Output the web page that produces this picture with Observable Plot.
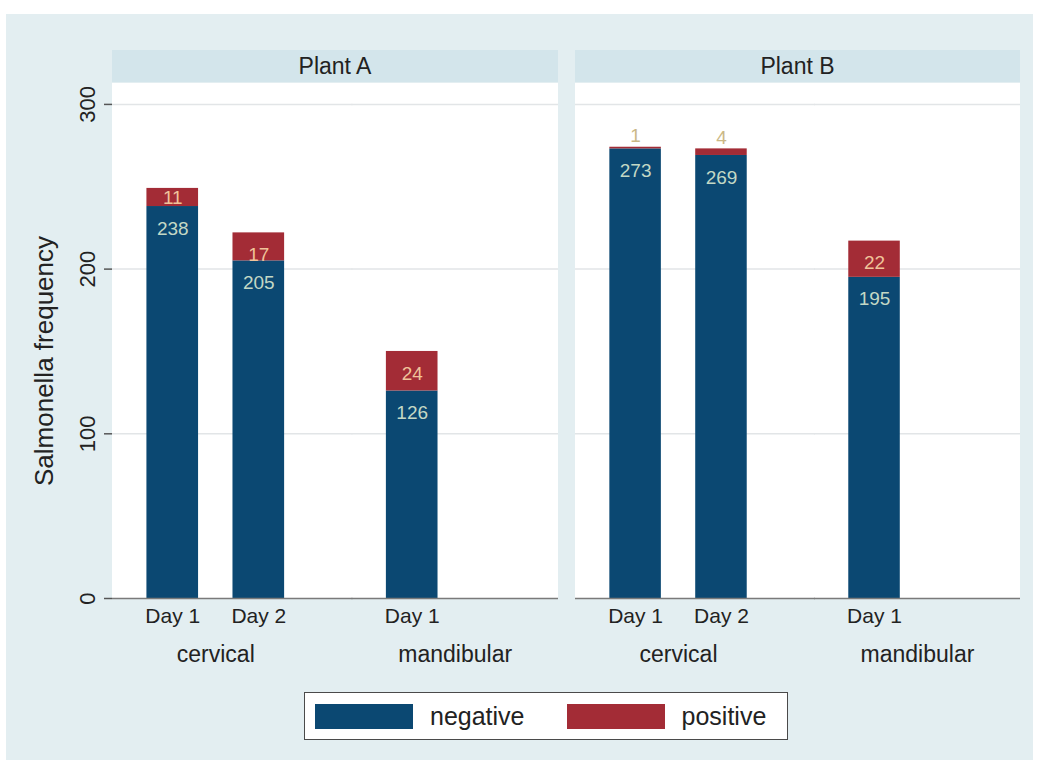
<!DOCTYPE html>
<html>
<head>
<meta charset="utf-8">
<script src="https://cdn.jsdelivr.net/npm/d3@7"></script>
<script src="https://cdn.jsdelivr.net/npm/@observablehq/plot@0.6"></script>
<style>
  html, body { margin: 0; padding: 0; background: #ffffff; }
  #page { position: relative; width: 1040px; height: 767px; overflow: hidden;
          font-family: "Liberation Sans", Arial, sans-serif; color: #222; }
  .abs { position: absolute; }
  .strip { background: #d3e5eb; font-size: 23px; display: flex; align-items: center; justify-content: center; }
  .panelbg { background: #ffffff; }
  #legend { display: flex; align-items: center; box-sizing: border-box; background: #fff;
            border: 1.5px solid #4a4a4a; font-size: 25px; }
  #legend .sw { width: 98px; height: 25px; }
</style>
</head>
<body>
<div id="page">
  <div class="abs" style="left:6px;top:14px;width:1027px;height:746px;background:#e3eef1"></div>
  <div id="panels"></div>
  <div id="plots"></div>
  <div id="ytitle" class="abs" style="left:44px;top:361px;transform:translate(-50%,-50%) rotate(-90deg);font-size:26px;line-height:1;white-space:nowrap"></div>
  <div id="legend" class="abs" style="left:304px;top:692px;width:484px;height:48px"></div>
</div>
<script>
// ---- data ----
const plants = ["Plant A", "Plant B"];
const sites = ["cervical", "mandibular"];
const days = ["Day 1", "Day 2"];
const statuses = ["negative", "positive"];
const statusColors = ["#0b4872", "#a32c36"];
const barPlant = ["Plant A", "Plant A", "Plant A", "Plant B", "Plant B", "Plant B"];
const barSite = ["cervical", "cervical", "mandibular", "cervical", "cervical", "mandibular"];
const barDay = ["Day 1", "Day 2", "Day 1", "Day 1", "Day 2", "Day 1"];
const negativeCounts = [238, 205, 126, 273, 269, 195];
const positiveCounts = [11, 17, 24, 1, 4, 22];
const yTicks = [0, 100, 200, 300];
const yTitle = "Salmonella frequency";

// ---- tables built from the arrays ----
const bars = barPlant.map((p, i) => ({plant: p, site: barSite[i], day: barDay[i]}));
const rows = [];
bars.forEach((b, i) => {
  rows.push({...b, status: statuses[0], count: negativeCounts[i]});
  rows.push({...b, status: statuses[1], count: positiveCounts[i]});
});
// one reference line per tick and facet
const gridRows = [];
sites.forEach(s => yTicks.forEach(t => gridRows.push({site: s, value: t})));

const FONT = '"Liberation Sans", Arial, sans-serif';

// panel geometry (page pixels)
const layout = {
  "Plant A": {left: 0, width: 560, ml: 112, mr: 2, axis: true},
  "Plant B": {left: 560, width: 470, ml: 15, mr: 10, axis: false}
};
const H = 680, MT = 83, MB = 82;
const FX_PAD = 0.1375;

function makePanel(plant) {
  const L = layout[plant];
  const data = rows.filter(d => d.plant === plant);
  const barData = bars.filter(d => d.plant === plant);
  const innerW = L.width - L.ml - L.mr;
  const gap = innerW / (sites.length - FX_PAD) * FX_PAD + 1; // space between the two facets
  const lab = {fx: "site", x: "day", y: "count", fontSize: 19, fontFamily: FONT};
  const first = d => d.site === sites[0];
  const marks = [
    Plot.ruleY(gridRows.filter(d => d.value > 0 && first(d)), {fx: "site", y: "value", stroke: "#e2e5e7", strokeWidth: 1.5, insetRight: -gap}),
    Plot.ruleY(gridRows.filter(d => d.value > 0 && !first(d)), {fx: "site", y: "value", stroke: "#e2e5e7", strokeWidth: 1.5}),
    Plot.barY(data, {fx: "site", x: "day", y: "count", fill: "status"}),
    Plot.ruleY(gridRows.filter(d => d.value === 0 && first(d)), {fx: "site", y: "value", stroke: "#7a7a7a", strokeWidth: 1.5, insetRight: -gap}),
    Plot.ruleY(gridRows.filter(d => d.value === 0 && !first(d)), {fx: "site", y: "value", stroke: "#7a7a7a", strokeWidth: 1.5}),
    Plot.text(data, Plot.stackY2({...lab, text: d => d.status === "negative" ? String(d.count) : "", dy: 22, fill: "#c3d8c5"})),
    Plot.text(data, Plot.stackY2({...lab, text: d => d.status === "positive" && d.count >= 15 ? String(d.count) : "", dy: 22, fill: "#f0c39a"})),
    Plot.text(data, Plot.stackY({...lab, text: d => d.status === "positive" && d.count >= 8 && d.count < 15 ? String(d.count) : "", fill: "#f0c39a"})),
    Plot.text(data, Plot.stackY2({...lab, text: d => d.status === "positive" && d.count < 8 ? String(d.count) : "", dy: -11, fill: "#cbb886"})),
    Plot.text(barData, {fx: "site", x: "day", text: "day", frameAnchor: "bottom", lineAnchor: "top", dy: 10, fontSize: 21, fontFamily: FONT, fill: "#222"}),
    Plot.axisFx({anchor: "bottom", tickSize: 0, tickPadding: 47, fontSize: 23, fontFamily: FONT, fill: "#222", label: null})
  ];
  if (L.axis) {
    marks.push(Plot.axisY({ticks: yTicks, tickSize: 8, tickPadding: 10, tickRotate: -90, fontSize: 22,
      fontFamily: FONT, stroke: "#555", fill: "#222", label: null, line: true, strokeWidth: 1.5}));
  }
  const svg = Plot.plot({
    width: L.width, height: H,
    marginLeft: L.ml, marginRight: L.mr, marginTop: MT, marginBottom: MB,
    style: {background: "transparent", overflow: "visible", fontFamily: FONT},
    fx: {domain: sites, paddingInner: FX_PAD, paddingOuter: 0, round: false, label: null},
    x: {domain: days, padding: 0.4, round: false, label: null, axis: null},
    y: {domain: [0, 312.7], label: null, axis: L.axis ? undefined : null},
    color: {domain: statuses, range: statusColors},
    marks
  });
  svg.style.position = "absolute";
  svg.style.left = L.left + "px";
  svg.style.top = "0px";

  const bg = document.createElement("div");
  bg.className = "abs panelbg";
  Object.assign(bg.style, {left: (L.left + L.ml) + "px", top: MT + "px",
    width: innerW + "px", height: (H - MT - MB) + "px"});
  document.getElementById("panels").appendChild(bg);
  const strip = document.createElement("div");
  strip.className = "abs strip";
  Object.assign(strip.style, {left: (L.left + L.ml) + "px", top: "50px",
    width: innerW + "px", height: "32px"});
  strip.textContent = plant;
  document.getElementById("panels").appendChild(strip);
  document.getElementById("plots").appendChild(svg);
}
plants.forEach(makePanel);

document.getElementById("ytitle").textContent = yTitle;

// legend
const legend = document.getElementById("legend");
statuses.forEach((s, i) => {
  const sw = document.createElement("div");
  sw.className = "sw";
  sw.style.background = statusColors[i];
  sw.style.marginLeft = i === 0 ? "10px" : "42px";
  const t = document.createElement("span");
  t.textContent = s;
  t.style.marginLeft = "17px";
  legend.appendChild(sw);
  legend.appendChild(t);
});
</script>
</body>
</html>
